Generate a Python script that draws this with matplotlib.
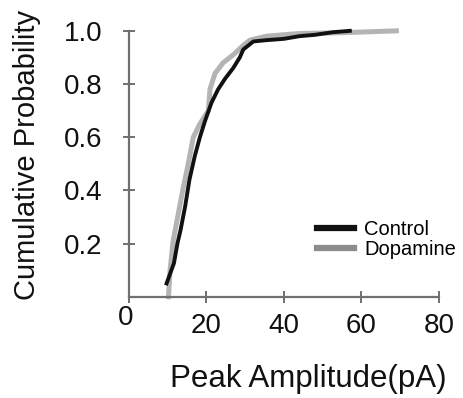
import matplotlib
matplotlib.use("Agg")
import matplotlib.pyplot as plt
from matplotlib.lines import Line2D

plt.rcParams['font.family'] = ['Liberation Sans', 'DejaVu Sans']

# Data
control_x = [9.7, 11.6, 12.5, 13.3, 14.5, 15.6, 17.0, 18.3, 19.6, 21.3, 23.0, 24.8, 26.9, 28.6,
             29.5, 32.1, 35.5, 40.0, 44.0, 48.0, 52.7, 57.0]
control_y = [0.05, 0.126, 0.20, 0.25, 0.34, 0.44, 0.53, 0.60, 0.66, 0.73, 0.78, 0.82, 0.86, 0.90,
             0.93, 0.96, 0.965, 0.97, 0.98, 0.985, 0.995, 1.0]

dopamine_x = [10.2, 10.6, 11.4, 12.7, 14.0, 15.3, 16.6, 18.3, 20.5, 20.9, 22.2, 24.3, 26.9, 29.5,
              31.2, 35.5, 44.0, 55.0, 69.0]
dopamine_y = [0.0, 0.10, 0.21, 0.31, 0.41, 0.50, 0.60, 0.65, 0.70, 0.78, 0.84, 0.88, 0.91, 0.945,
              0.965, 0.98, 0.99, 0.993, 1.0]

x_ticks = [0, 20, 40, 60, 80]
x_tick_labels = ['', '20', '40', '60', '80']
y_ticks = [0.2, 0.4, 0.6, 0.8, 1.0]
y_tick_labels = ['0.2', '0.4', '0.6', '0.8', '1.0']

series_names = ['Control', 'Dopamine']
line_colors = ['#111111', '#b4b4b4']
legend_colors = ['#111111', '#8c8c8c']

fig = plt.figure(figsize=(4.64, 3.98), dpi=100)
ax = fig.add_axes([0.278, 0.2545, 0.668, 0.668])

ax.plot(dopamine_x, dopamine_y, color=line_colors[1], lw=3.6, clip_on=False, zorder=2,
        solid_joinstyle='round')
ax.plot(control_x, control_y, color=line_colors[0], lw=2.8, clip_on=False, zorder=3)

ax.set_xlim(0, 80)
ax.set_ylim(0, 1.0)

spine_color = '#707070'
for s in ['top', 'right']:
    ax.spines[s].set_visible(False)
for s in ['left', 'bottom']:
    ax.spines[s].set_color(spine_color)
    ax.spines[s].set_linewidth(1.6)

ax.set_xticks(x_ticks)
ax.set_xticklabels(x_tick_labels)
ax.set_yticks(y_ticks)
ax.set_yticklabels(y_tick_labels)
ax.tick_params(axis='both', direction='inout', length=8, width=1.4, color=spine_color,
               labelsize=20, labelcolor='#111111')
ax.tick_params(axis='y', pad=15)
ax.tick_params(axis='x', pad=8)

ax.annotate('0', xy=(0, 0), xycoords='data', xytext=(-2.5, -6), textcoords='offset points',
            ha='center', va='top', fontsize=20, color='#111111', annotation_clip=False)

handles = [Line2D([0], [0], color=legend_colors[0], lw=4.5),
           Line2D([0], [0], color=legend_colors[1], lw=4.5)]
ax.legend(handles, series_names, loc='upper left', bbox_to_anchor=(0.606, 0.29),
          frameon=False, fontsize=14.5, handlelength=1.85, handletextpad=0.5,
          labelspacing=0.05, borderpad=0, borderaxespad=0)

fig.text(27 / 464, 1 - 155 / 398, 'Cumulative Probability', rotation=90, ha='center',
         va='center', fontsize=21, color='#111111')
fig.text(308 / 464, 1 - 387 / 398, 'Peak Amplitude(pA)', ha='center', va='baseline',
         fontsize=22.5, color='#111111')

fig.savefig('out.png', dpi=100)
